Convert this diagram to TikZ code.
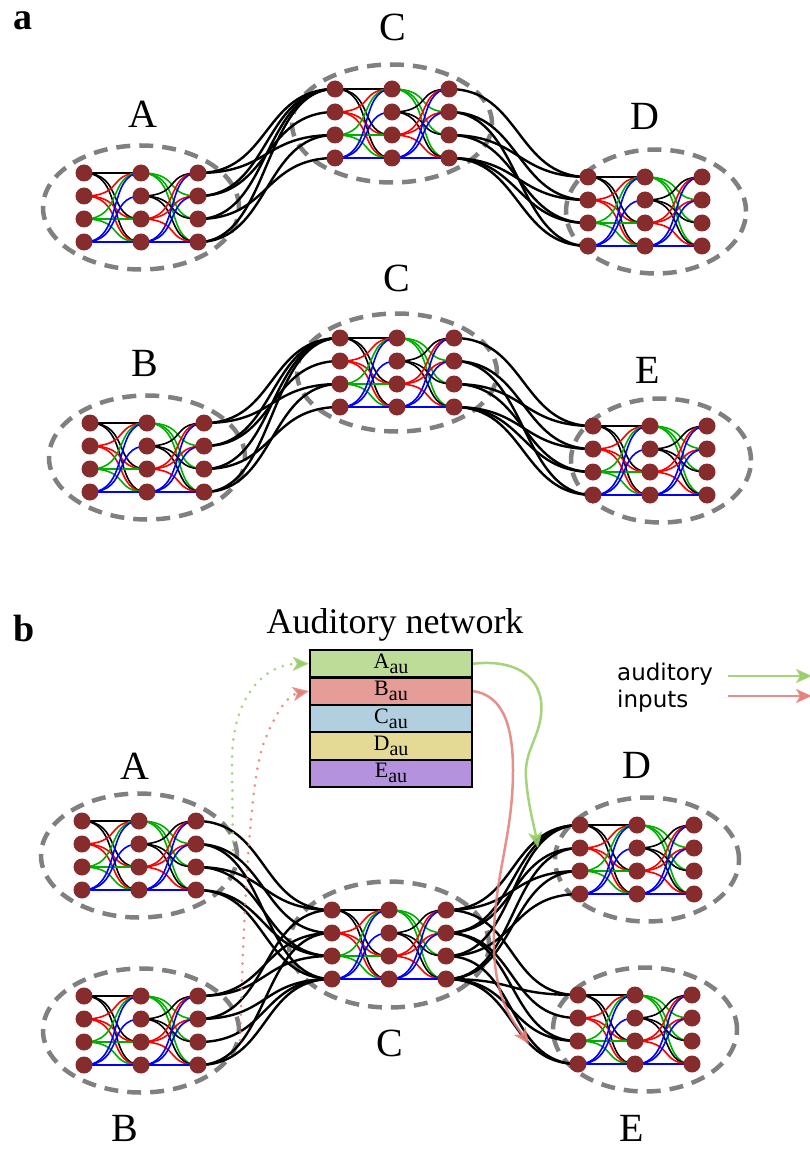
\documentclass[tikz,border=0pt]{standalone}
\usepackage{fontspec}
\setmainfont{Liberation Serif}
\newfontfamily\legfont{DejaVu Sans}
\usetikzlibrary{arrows.meta}
\pgfdeclarelayer{ringlayer}
\pgfdeclarelayer{linklayer}
\pgfsetlayers{ringlayer,linklayer,main}
\definecolor{dotred}{RGB}{134,44,44}
\definecolor{ringgray}{RGB}{128,128,128}
\definecolor{grn}{RGB}{0,175,0}
\definecolor{boxA}{RGB}{189,220,151}
\definecolor{boxB}{RGB}{230,156,151}
\definecolor{boxC}{RGB}{177,207,222}
\definecolor{boxD}{RGB}{229,217,150}
\definecolor{boxE}{RGB}{180,146,222}
\definecolor{arrG}{RGB}{150,205,100}
\definecolor{arrR}{RGB}{226,125,120}
\tikzset{
 dot/.style={circle, fill=dotred, draw=none, minimum size=17pt, inner sep=0pt},
 ring/.style={draw=ringgray, line width=4.5pt, dash pattern=on 14pt off 9pt},
 intra/.style={line width=1.6pt},
 inter/.style={line width=2.4pt, draw=black},
 lab/.style={font=\fontsize{40}{40}\selectfont, anchor=base, inner sep=0pt},
 panel/.style={font=\bfseries\fontsize{38}{38}\selectfont, anchor=base, inner sep=0pt},
 abox/.style={draw=black, line width=2.2pt, minimum width=162pt, minimum height=27.4pt, inner sep=0pt, font=\fontsize{22}{22}\selectfont},
 arrowG/.style={draw=arrG, line width=2.5pt, opacity=0.85, -{Stealth[length=16pt,width=14pt,inset=4pt,fill=arrG]}},
 arrowR/.style={draw=arrR, line width=2.5pt, opacity=0.85, -{Stealth[length=16pt,width=14pt,inset=4pt,fill=arrR]}},
 dotpath/.style={line width=3pt, line cap=round, dash pattern=on 0pt off 8.5pt},
 legtext/.style={font=\legfont\fontsize{23}{23}\selectfont, anchor=base west, inner sep=0pt},
}
\newcommand\sub[1]{\raisebox{-5pt}{\fontsize{20}{20}\selectfont #1}}
% name, x of col1, y of row1, ellipse x offset, rx, ry
\newcommand\netmod[6]{%
  \foreach \cc in {1,2,3}{\foreach \rr in {1,2,3,4}{%
    \node[dot] (#1-\cc-\rr) at ({#2+57*(\cc-1)},{#3+23*(\rr-1)}) {};}}
  \begin{pgfonlayer}{ringlayer}
  \draw[ring] ({#2+57+#4},{#3+34.5}) ellipse [x radius=#5pt, y radius=#6pt];
  \end{pgfonlayer}
  \begin{pgfonlayer}{linklayer}
  \foreach \s/\cl/\tl in {1/black/{1,3,4},2/red/{1,3,4},3/grn/{1,3,4},4/blue/{1,2,4}}{\foreach \t in \tl{%
    \draw[intra,color=\cl] (#1-1-\s.center) .. controls +(40,0) and +(-34,0) .. (#1-2-\t.center);}}
  \foreach \s/\cl/\tl in {1/grn/{2,3,4},2/black/{1,3,4},3/red/{1,2,4},4/blue/{1,2,4}}{\foreach \t in \tl{%
    \draw[intra,color=\cl] (#1-2-\s.center) .. controls +(40,0) and +(-34,0) .. (#1-3-\t.center);}}
  \end{pgfonlayer}
}
% src, tgt, control length, pairs
\newcommand\linkmods[4]{%
  \begin{pgfonlayer}{linklayer}
  \foreach \s/\t in {#4}{\draw[inter] (#1-3-\s.center) .. controls +(#3,0) and +(-#3,0) .. (#2-1-\t.center);}
  \end{pgfonlayer}}

\begin{document}
\begin{tikzpicture}[x=1pt,y=-1pt]
\useasboundingbox (0,0) rectangle (810,1150);
% ---------------- panel a
\node[panel] (pa) at (23,30) {a};
\netmod{aA}{84}{173}{0}{98}{62}
\netmod{aC}{335}{89}{0}{100}{59}
\netmod{aD}{588}{177}{11}{90}{62}
\netmod{aB}{90}{423}{0}{98}{62}
\netmod{aCC}{340}{338}{0}{100}{59}
\netmod{aE}{593}{426}{11}{90}{62}
\linkmods{aA}{aC}{72}{1/1,1/3,2/1,2/2,3/1,3/4,4/1,4/3}
\linkmods{aC}{aD}{72}{1/1,2/2,2/4,3/1,3/3,4/2,4/3,4/4}
\linkmods{aB}{aCC}{72}{1/1,1/3,2/1,2/2,3/1,3/4,4/1,4/3}
\linkmods{aCC}{aE}{72}{1/1,2/2,2/4,3/1,3/3,4/2,4/3,4/4}
\node[lab] (laA) at (143,128) {A};
\node[lab] (laC) at (393,41) {C};
\node[lab] (laD) at (645,130) {D};
\node[lab] (laCC) at (397,291) {C};
\node[lab] (laB) at (145,376) {B};
\node[lab] (laE) at (648,383) {E};
% ---------------- panel b
\node[panel] (pb) at (24,641) {b};
\netmod{bA}{82}{821}{0}{98}{62}
\netmod{bB}{84}{996}{0}{98}{62}
\netmod{bC}{332}{910}{0}{100}{63}
\netmod{bD}{580}{825}{10}{92}{62}
\netmod{bE}{578}{995}{10}{92}{62}
\linkmods{bA}{bC}{72}{1/1,2/2,2/4,3/3,3/1,4/3,4/4}
\linkmods{bB}{bC}{72}{1/3,1/2,2/4,2/1,3/4,4/4,4/2}
\linkmods{bC}{bD}{72}{1/3,1/1,2/1,2/2,3/4,3/1,4/3,4/2}
\linkmods{bC}{bE}{72}{1/1,2/2,2/3,3/4,4/3,4/4,4/1}
\node[lab] (lbA) at (135,779) {A};
\node[lab] (lbD) at (637,778) {D};
\node[lab] (lbC) at (390,1056) {C};
\node[lab] (lbB) at (125,1141) {B};
\node[lab] (lbE) at (632,1141) {E};
% auditory network
\node[font=\fontsize{36}{36}\selectfont, anchor=base, inner sep=0pt] (title) at (395,633) {Auditory network};
\node[abox, fill=boxA] (Aau) at (391,663.7) {A\sub{au}};
\node[abox, fill=boxB] (Bau) at (391,691.1) {B\sub{au}};
\node[abox, fill=boxC] (Cau) at (391,718.5) {C\sub{au}};
\node[abox, fill=boxD] (Dau) at (391,745.9) {D\sub{au}};
\node[abox, fill=boxE] (Eau) at (391,773.3) {E\sub{au}};
% arrows from the box
\coordinate (gEnd) at (538,848);
\coordinate (rEnd) at (529,1044);
\draw[arrowG] (Aau.east) .. controls (525,658) and (545,685) .. (541,715)
   .. controls (538,740) and (524,752) .. (526,778)
   .. controls (528,805) and (534,825) .. (gEnd);
\draw[arrowR] (Bau.east) .. controls (500,695) and (513,720) .. (513,770)
   .. controls (513,840) and (492,880) .. (494,950)
   .. controls (496,1000) and (512,1020) .. (rEnd);
% dotted inputs
\coordinate (gdStart) at (233,850);
\coordinate (rdStart) at (240,1040);
\draw[arrowG, dotpath] (gdStart) -- (232,765) .. controls (231,700) and (262,664) .. (Aau.west);
\draw[arrowR, dotpath] (rdStart) .. controls (244,900) and (250,790) .. (262,748)
   .. controls (275,712) and (288,695) .. (Bau.west);
% legend
\node[legtext] (leg1) at (617,680) {auditory};
\node[legtext] (leg2) at (617,707) {inputs};
\coordinate (lgS1) at (728,676);
\coordinate (lgE1) at (812,676);
\coordinate (lgS2) at (728,696);
\coordinate (lgE2) at (812,696);
\draw[arrowG] (lgS1) -- (lgE1);
\draw[arrowR] (lgS2) -- (lgE2);
\end{tikzpicture}
\end{document}
